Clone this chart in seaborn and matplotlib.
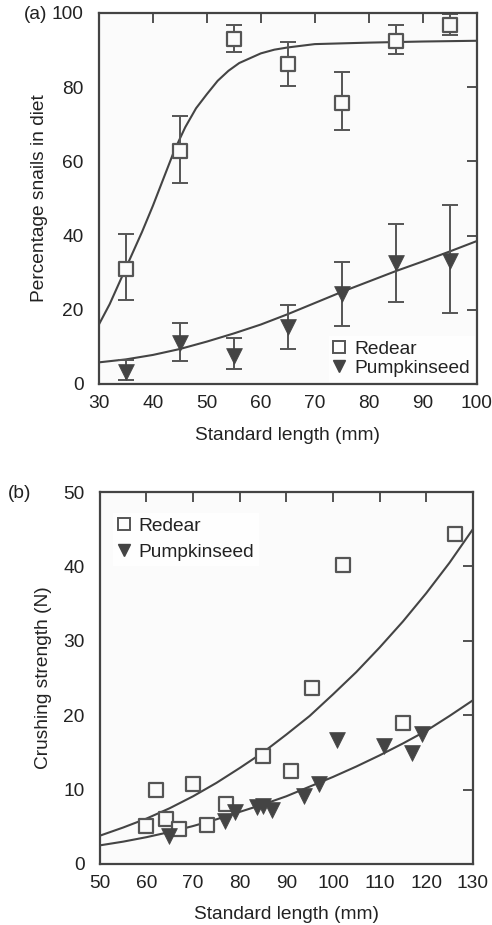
import numpy as np
import pandas as pd
import matplotlib
matplotlib.use("Agg")
import matplotlib.pyplot as plt
from matplotlib.lines import Line2D
import seaborn as sns

sns.set_theme(style="white")
plt.rcParams["font.family"] = ["Liberation Sans", "DejaVu Sans"]

dark = "#444444"
txt = "#222222"
fs = 13.8

# ---- panel (a): percentage snails in diet ----
len_a = [35, 45, 55, 65, 75, 85, 95]
redear_pct = [31.0, 62.8, 93.0, 86.2, 75.7, 92.5, 96.8]
redear_lo = [22.6, 54.2, 89.6, 80.3, 68.4, 88.9, 94.1]
redear_hi = [40.4, 72.2, 96.7, 92.1, 84.2, 96.8, 99.7]
pump_pct = [3.3, 11.0, 7.4, 15.2, 24.2, 32.5, 33.2]
pump_lo = [1.1, 6.3, 4.1, 9.5, 15.5, 22.2, 19.0]
pump_hi = [6.5, 16.4, 12.3, 21.2, 32.8, 43.0, 48.3]

fit_a_redear_x = [30, 32, 34, 36, 38, 40, 42, 44, 46, 48, 50, 52, 54, 56, 58, 60, 62.5, 65, 70, 80, 90, 100]
fit_a_redear_y = [16, 21.5, 28, 34.5, 41, 48, 55.5, 63, 69.2, 74.3, 78.1, 81.7, 84.4, 86.5, 87.8, 89.1, 90.1, 90.7, 91.6, 92.0, 92.3, 92.5]
fit_a_pump_x = [30, 35, 40, 45, 50, 55, 60, 65, 70, 75, 80, 85, 90, 95, 100]
fit_a_pump_y = [5.8, 6.6, 7.8, 9.4, 11.4, 13.6, 16.0, 18.8, 21.8, 24.8, 27.6, 30.4, 33.0, 35.7, 38.5]

# ---- panel (b): crushing strength ----
redear_len_b = [126.2, 102.2, 95.6, 115.1, 84.9, 90.9, 69.9, 62.0, 77.0, 64.1, 59.8, 67.0, 72.9]
redear_force = [44.4, 40.2, 23.7, 18.9, 14.5, 12.5, 10.8, 10.0, 8.1, 6.0, 5.1, 4.7, 5.3]
pump_len_b = [64.9, 76.8, 79.0, 83.6, 85.0, 87.0, 93.8, 97.0, 100.9, 110.9, 117.0, 119.0]
pump_force = [3.8, 5.8, 7.0, 7.7, 7.8, 7.2, 9.1, 10.8, 16.6, 15.8, 14.9, 17.5]

fit_b_x = [50, 55, 60, 65, 70, 75, 80, 85, 90, 95, 100, 105, 110, 115, 120, 125, 130]
fit_b_redear = [3.8, 4.9, 6.1, 7.5, 9.1, 10.9, 12.9, 15.0, 17.4, 19.9, 22.8, 25.8, 29.1, 32.6, 36.4, 40.5, 45.0]
fit_b_pump = [2.5, 3.0, 3.6, 4.3, 5.1, 6.0, 7.0, 8.0, 9.1, 10.4, 11.7, 13.1, 14.6, 16.2, 17.9, 19.9, 22.0]

diet = pd.concat([
  pd.DataFrame({"length": len_a, "pct": redear_pct, "lo": redear_lo, "hi": redear_hi, "species": "Redear"}),
  pd.DataFrame({"length": len_a, "pct": pump_pct, "lo": pump_lo, "hi": pump_hi, "species": "Pumpkinseed"}),
], ignore_index=True)

crush = pd.concat([
  pd.DataFrame({"length": redear_len_b, "force": redear_force, "species": "Redear"}),
  pd.DataFrame({"length": pump_len_b, "force": pump_force, "species": "Pumpkinseed"}),
], ignore_index=True)

fig = plt.figure(figsize=(4.92, 9.25), dpi=100)
ax1 = fig.add_axes([0.201, 0.585, 0.768, 0.401])
ax2 = fig.add_axes([0.203, 0.066, 0.758, 0.402])

def style_axes(ax):
  ax.set_facecolor("#fbfbfb")
  for s in ax.spines.values():
    s.set_color(dark)
    s.set_linewidth(1.6)
  ax.tick_params(direction="in", length=7, width=1.3, color=dark, top=True, right=True,
                 labelsize=fs, labelcolor=txt)
  ax.tick_params(axis="y", pad=11)
  ax.tick_params(axis="x", pad=8)

def legend(ax, loc, anchor, spacing):
  handles = [
    Line2D([], [], ls="none", marker="s", ms=8, mfc="none", mec="#555555", mew=1.4, label="Redear"),
    Line2D([], [], ls="none", marker="v", ms=9, mfc=dark, mec=dark, label="Pumpkinseed"),
  ]
  lg = ax.legend(handles=handles, loc=loc, bbox_to_anchor=anchor, frameon=True, fontsize=fs,
                 handlelength=0.6, handletextpad=0.5, labelspacing=spacing, borderpad=0.25,
                 borderaxespad=0.1, fancybox=False)
  lg.get_frame().set_facecolor("white")
  lg.get_frame().set_edgecolor("none")
  for t in lg.get_texts():
    t.set_color(txt)

def points(ax, data, x, y, sp, size):
  d = data[data.species == sp]
  if sp == "Redear":
    sns.scatterplot(x=d[x], y=d[y], marker="s", s=size, facecolor="#fbfbfb",
                    edgecolor="#555555", linewidth=1.6, ax=ax, zorder=3)
  else:
    sns.scatterplot(x=d[x], y=d[y], marker="v", s=size, color=dark,
                    edgecolor=dark, linewidth=0.5, ax=ax, zorder=3)

# panel (a)
style_axes(ax1)
sns.lineplot(x=fit_a_redear_x, y=fit_a_redear_y, ax=ax1, color=dark, lw=1.5)
sns.lineplot(x=fit_a_pump_x, y=fit_a_pump_y, ax=ax1, color=dark, lw=1.5)
for sp, g in diet.groupby("species"):
  ax1.errorbar(g["length"], g["pct"], yerr=[g["pct"] - g["lo"], g["hi"] - g["pct"]],
               fmt="none", ecolor="#555555", elinewidth=1.4, capsize=5.5, capthick=1.4, zorder=2)
points(ax1, diet, "length", "pct", "Redear", 100)
points(ax1, diet, "length", "pct", "Pumpkinseed", 130)
ax1.set_xlim(30, 100)
ax1.set_ylim(0, 100)
ax1.set_xticks(range(30, 101, 10))
ax1.set_yticks(range(0, 101, 20))
ax1.set_xlabel("Standard length (mm)", fontsize=fs, color=txt, labelpad=11)
ax1.set_ylabel("Percentage snails in diet", fontsize=fs, color=txt, labelpad=3)
legend(ax1, "lower right", (1.0, 0.0), 0.1)
fig.text(0.048, 0.984, "(a)", fontsize=fs, color=txt, va="center")

# panel (b)
style_axes(ax2)
sns.lineplot(x=fit_b_x, y=fit_b_redear, ax=ax2, color=dark, lw=1.5)
sns.lineplot(x=fit_b_x, y=fit_b_pump, ax=ax2, color=dark, lw=1.5)
points(ax2, crush, "length", "force", "Redear", 110)
points(ax2, crush, "length", "force", "Pumpkinseed", 130)
ax2.set_xlim(50, 130)
ax2.set_ylim(0, 50)
ax2.set_xticks(range(50, 131, 10))
ax2.set_yticks(range(0, 51, 10))
ax2.set_xlabel("Standard length (mm)", fontsize=fs, color=txt, labelpad=10)
ax2.set_ylabel("Crushing strength (N)", fontsize=fs, color=txt, labelpad=8)
legend(ax2, "upper left", (0.03, 0.95), 0.45)
fig.text(0.016, 0.467, "(b)", fontsize=fs, color=txt, va="center")

fig.savefig("out.png", dpi=100, facecolor="white")
